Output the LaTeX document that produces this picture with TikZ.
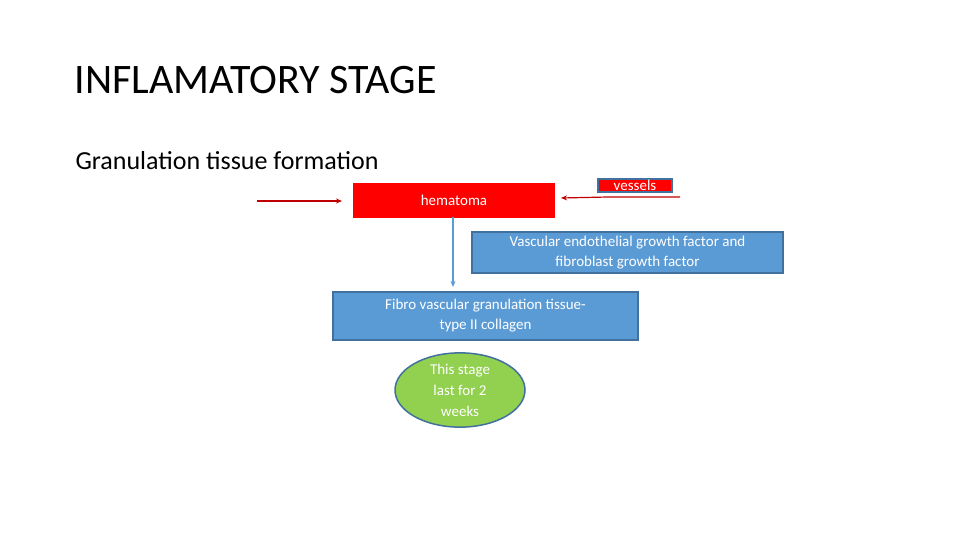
\documentclass[tikz,border=0pt]{standalone}
\usepackage{fontspec}
\setmainfont{Carlito}
\usetikzlibrary{arrows.meta,shapes.geometric}
\begin{document}
\begin{tikzpicture}[x=1pt,y=-1pt,
 box/.style={draw=#1,line width=1.2pt,inner sep=0pt,font=\fontsize{15}{20}\selectfont,text=white,align=center},
 red/.style={line width=1.2pt,draw={rgb,255:red,192;green,0;blue,0},-{Stealth[length=6pt,width=5pt]}},
 blu/.style={line width=1.2pt,draw={rgb,255:red,91;green,155;blue,213},-{Stealth[length=6pt,width=5pt]}}]
\definecolor{bfill}{RGB}{91,155,213}
\definecolor{bdraw}{RGB}{65,113,156}
\definecolor{gfill}{RGB}{146,208,80}
\useasboundingbox (0,0) rectangle (960,540);
\node[anchor=base west,font=\fontsize{42}{48}\selectfont] (t) at (71,94) {INFLAMATORY STAGE};
\node[anchor=base west,font=\fontsize{26}{30}\selectfont] (s) at (72,170) {Granulation tissue formation};
\node[box=red,fill=red,minimum width=200pt,minimum height=33pt] (h) at (454,200.5) {hematoma};
\node[box=bdraw,fill=red,minimum width=74pt,minimum height=13pt] (v) at (635,185.5) {vessels};
\node[box=bdraw,fill=bfill,minimum width=311pt,minimum height=41pt] (g) at (627.5,252.5) {Vascular endothelial growth factor and\\fibroblast growth factor};
\node[box=bdraw,fill=bfill,minimum width=305pt,minimum height=48pt] (f) at (485.5,316) {Fibro vascular granulation tissue-\\type II collagen};
\node[ellipse,draw=bdraw,line width=1.5pt,fill=gfill,minimum width=130pt,minimum height=74pt,inner sep=0pt,font=\fontsize{15}{21}\selectfont,text=white,align=center] (e) at (460,390) {This stage\\last for 2\\weeks};
\coordinate (l0) at (257,201);
\coordinate (r0) at (680,197);
\draw[red] (l0) -- (342,201);
\draw[red] (r0) -- (608,197) -- (561,198);
\draw[blu] (453,217) -- (453,287);
\end{tikzpicture}
\end{document}
